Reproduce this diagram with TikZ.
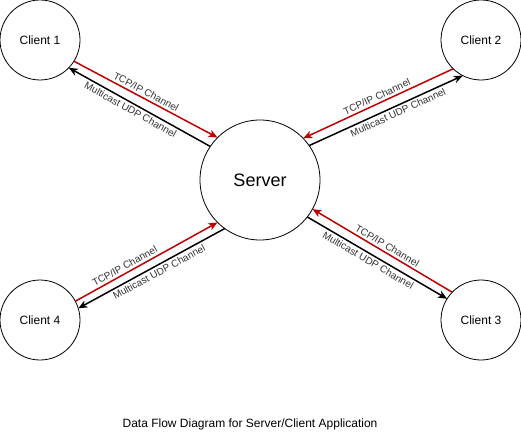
\documentclass[tikz,border=0pt]{standalone}
\usepackage{fontspec}
\setmainfont{Liberation Sans}
\usetikzlibrary{arrows.meta}
\definecolor{tcpred}{RGB}{190,0,0}
\definecolor{lbl}{RGB}{51,51,51}
\begin{document}
\begin{tikzpicture}[x=1pt,y=-1pt,
  >={Stealth[length=9pt,width=7.5pt,inset=2.5pt]},
  client/.style={circle,draw,line width=0.8pt,minimum size=80pt,inner sep=0pt,outer sep=0pt,font=\fontsize{12}{14}\selectfont},
  server/.style={client,minimum size=120pt,font=\fontsize{18}{20}\selectfont},
  tcp/.style={draw=tcpred,line width=1.5pt},
  udp/.style={draw=black,line width=1.5pt},
  chlabel/.style={sloped,font=\fontsize{10}{12}\selectfont,text=lbl,inner sep=0pt,text height=7pt,text depth=0pt},
  caption/.style={font=\fontsize{12}{14}\selectfont,inner sep=0pt}
]
\path[fill=white,use as bounding box] (0,0) rectangle (521,441);

\node[client] (c1) at (40,40) {Client 1};
\node[client] (c2) at (481,40) {Client 2};
\node[client] (c3) at (481,320) {Client 3};
\node[client] (c4) at (40,320) {Client 4};
\node[server] (srv) at (260,180) {Server};

% Client 1
\draw[tcp,->] (c1.-32) -- node[chlabel,pos=0.48,above=2.5pt]{TCP/IP Channel} (srv.135);
\draw[udp,<-] (c1.-44) -- node[chlabel,pos=0.46,below=2.5pt]{Multicast UDP Channel} (srv.146);
% Client 2
\draw[tcp,<-] (srv.44) -- node[chlabel,pos=0.51,above=2.5pt]{TCP/IP Channel} (c2.-134);
\draw[udp,->] (srv.35) -- node[chlabel,pos=0.56,below=2.5pt]{Multicast UDP Channel} (c2.-117);
% Client 4
\draw[tcp,->] (c4.28) -- node[chlabel,pos=0.37,above=2.5pt]{TCP/IP Channel} (srv.-135);
\draw[udp,<-] (c4.17) -- node[chlabel,pos=0.53,below=2.5pt]{Multicast UDP Channel} (srv.-126.5);
% Client 3
\draw[tcp,<-] (srv.-29.5) -- node[chlabel,pos=0.51,above=2.5pt]{TCP/IP Channel} (c3.136);
\draw[udp,->] (srv.-38) -- node[chlabel,pos=0.46,below=2.5pt]{Multicast UDP Channel} (c3.148.6);

\node[caption] (cap) at (250,424) {Data Flow Diagram for Server/Client Application};
\end{tikzpicture}
\end{document}
